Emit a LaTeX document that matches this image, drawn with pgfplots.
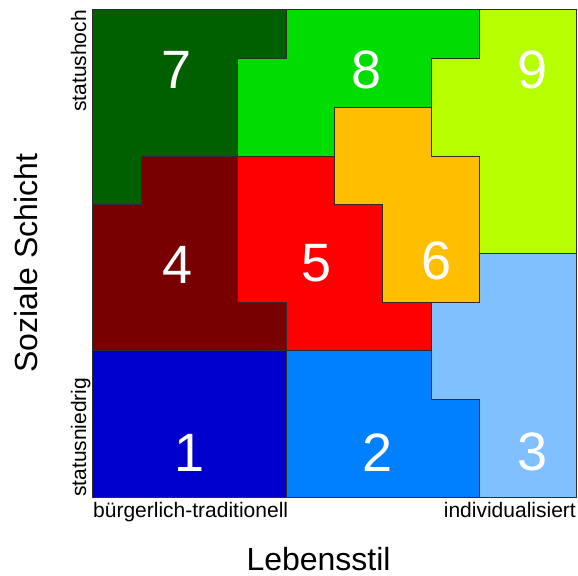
\documentclass[border=0pt]{standalone}
\usepackage{pgfplots}
\pgfplotsset{compat=1.18}
\usepackage{fontspec}
\setmainfont{Liberation Sans}
\definecolor{cA}{RGB}{0,0,204}
\definecolor{cB}{RGB}{0,128,255}
\definecolor{cC}{RGB}{128,192,255}
\definecolor{cD}{RGB}{120,0,0}
\definecolor{cE}{RGB}{255,0,0}
\definecolor{cF}{RGB}{255,190,0}
\definecolor{cG}{RGB}{0,96,0}
\definecolor{cH}{RGB}{0,221,0}
\definecolor{cI}{RGB}{182,255,0}
\definecolor{edgec}{RGB}{45,45,45}
\begin{document}
\begin{tikzpicture}
\begin{axis}[
  scale only axis, width=483bp, height=487bp,
  xmin=0, xmax=10, ymin=0, ymax=10,
  xtick=\empty, ytick=\empty,
  axis line style={draw=edgec, line width=1bp},
  clip=false,
]
\pgfplotsset{every axis plot/.append style={draw=edgec, line width=1bp}}
\addplot[fill=cA] coordinates {(0,0)(4,0)(4,3)(0,3)} -- cycle;
\addplot[fill=cB] coordinates {(4,0)(8,0)(8,2)(7,2)(7,3)(4,3)} -- cycle;
\addplot[fill=cC] coordinates {(8,0)(10,0)(10,5)(8,5)(8,4)(7,4)(7,2)(8,2)} -- cycle;
\addplot[fill=cD] coordinates {(0,3)(4,3)(4,4)(3,4)(3,7)(1,7)(1,6)(0,6)} -- cycle;
\addplot[fill=cE] coordinates {(3,4)(4,4)(4,3)(7,3)(7,4)(6,4)(6,6)(5,6)(5,7)(3,7)} -- cycle;
\addplot[fill=cF] coordinates {(5,6)(6,6)(6,4)(8,4)(8,7)(7,7)(7,8)(5,8)} -- cycle;
\addplot[fill=cG] coordinates {(0,6)(1,6)(1,7)(3,7)(3,9)(4,9)(4,10)(0,10)} -- cycle;
\addplot[fill=cH] coordinates {(4,10)(8,10)(8,9)(7,9)(7,8)(5,8)(5,7)(3,7)(3,9)(4,9)} -- cycle;
\addplot[fill=cI] coordinates {(8,10)(10,10)(10,5)(8,5)(8,7)(7,7)(7,9)(8,9)} -- cycle;
\begin{scope}[every node/.style={text=white, inner sep=0pt, font=\fontsize{54bp}{60bp}\selectfont}]
\node at (axis cs:1.99,0.91) {1};
\node at (axis cs:5.90,0.92) {2};
\node at (axis cs:9.10,0.92) {3};
\node at (axis cs:1.74,4.76) {4};
\node at (axis cs:4.63,4.80) {5};
\node at (axis cs:7.11,4.85) {6};
\node at (axis cs:1.72,8.77) {7};
\node at (axis cs:5.66,8.77) {8};
\node at (axis cs:9.09,8.77) {9};
\end{scope}
\begin{scope}[every node/.style={inner sep=0pt, font=\fontsize{21bp}{25bp}\selectfont}]
\node[anchor=base west] at ([yshift=-20bp]axis cs:0,0) {bürgerlich-traditionell};
\node[anchor=base east] at ([yshift=-20bp]axis cs:10,0) {individualisiert};
\node[anchor=base west, rotate=90] at ([xshift=-7bp]axis cs:0,0) {statusniedrig};
\node[anchor=base east, rotate=90] at ([xshift=-7bp]axis cs:0,10) {statushoch};
\end{scope}
\node[inner sep=0pt, anchor=base, font=\fontsize{32bp}{38bp}\selectfont] at ([yshift=-73bp]axis cs:4.67,0) {Lebensstil};
\node[inner sep=0pt, anchor=base, rotate=90, font=\fontsize{32bp}{38bp}\selectfont] at ([xshift=-55bp]axis cs:0,4.8) {Soziale Schicht};
\end{axis}
\path (current axis.south west) ++(-93bp,-79bp) rectangle ++(578bp,576bp);
\end{tikzpicture}
\end{document}
